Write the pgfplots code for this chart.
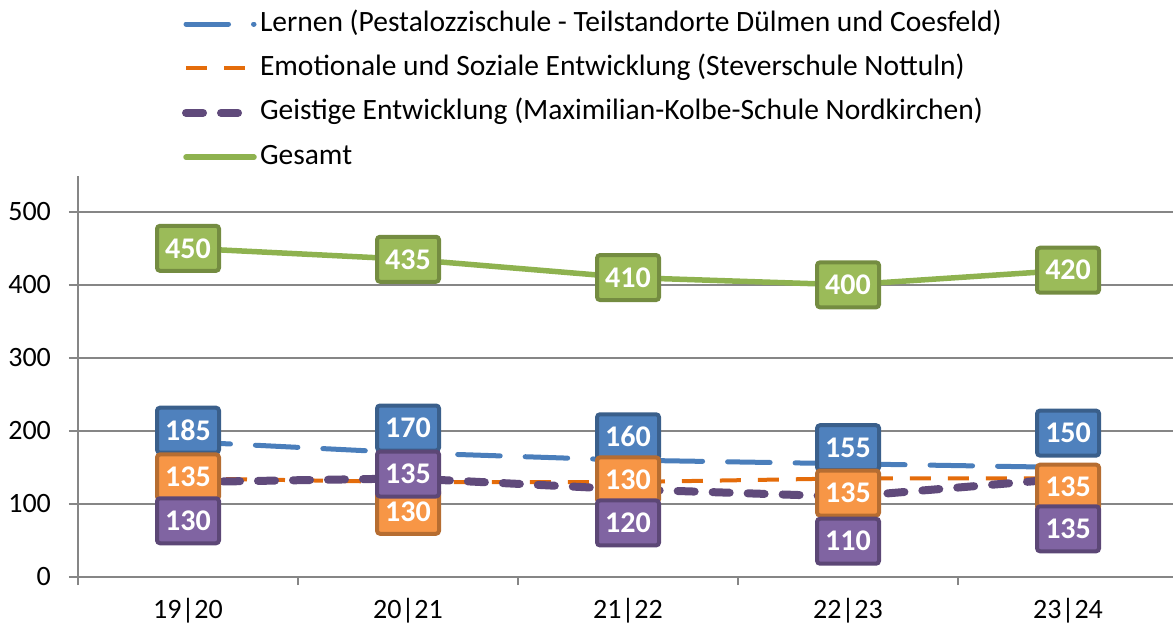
\documentclass[border=0pt]{standalone}
\usepackage{fontspec}
\setmainfont{Carlito}
\usepackage{pgfplots}
\pgfplotsset{compat=1.18}
\definecolor{axgray}{HTML}{868686}
\definecolor{lblue}{HTML}{4A7EBB}
\definecolor{lorange}{HTML}{E46C0A}
\definecolor{lpurple}{HTML}{604A7B}
\definecolor{lgreen}{HTML}{8EB24F}
\definecolor{fblue}{HTML}{4F81BD}
\definecolor{bblue}{HTML}{3A5F8B}
\definecolor{forange}{HTML}{F79646}
\definecolor{borange}{HTML}{B66D31}
\definecolor{fpurple}{HTML}{8064A2}
\definecolor{bpurple}{HTML}{5C4776}
\definecolor{fgreen}{HTML}{9BBB59}
\definecolor{bgreen}{HTML}{748C41}
\tikzset{lbl/.style 2 args={fill=#1, draw=#2, line width=2pt, rounded corners=1.5pt,
  minimum width=31pt, minimum height=22.5pt, inner sep=0pt, text=white,
  font=\fontsize{15}{16}\selectfont\bfseries, anchor=center}}
\begin{document}
\begin{tikzpicture}
\begin{axis}[
  at={(0,0)}, anchor=south west,
  scale only axis, width=547.5pt, height=200.5pt,
  xmin=-0.5, xmax=4.477, ymin=0, ymax=549,
  axis x line*=bottom, axis y line*=left,
  axis line style={draw=axgray, line width=1pt},
  xtick={0,1,2,3,4},
  xticklabels={19|20,20|21,21|22,22|23,23|24},
  minor xtick={-0.5,0.5,1.5,2.5,3.5},
  major x tick style={draw=none},
  minor x tick style={draw=axgray, line width=1pt},
  ytick={0,100,200,300,400,500},
  y tick style={draw=axgray, line width=1pt},
  tick align=outside, major tick length=4.5pt, minor tick length=4pt,
  ymajorgrids, grid style={draw=axgray, line width=1pt},
  /pgf/number format/assume math mode=true,
  ticklabel style={font=\fontsize{14}{16}\selectfont},
  yticklabel style={xshift=-5.5pt},
  xticklabel style={yshift=-2.5pt},
  legend cell align=left,
  legend image code/.code={\draw[#1] (0pt,0pt) -- (34pt,0pt);},
  legend style={draw=none, fill=none, at={(axis description cs:0.095,1.4115)},
    anchor=north west, inner sep=0pt, outer sep=0pt, row sep=9.2pt,
    nodes={inner xsep=1pt, inner ysep=0pt, text height=10pt, text depth=3pt,
      font=\fontsize{14.75}{16}\selectfont}},
]
\addplot[lblue, line width=2.5pt, line cap=round, dash pattern=on 21.25pt off 12.5pt]
  coordinates {(0,185) (1,170) (2,160) (3,155) (4,150)};
\addlegendentry{Lernen (Pestalozzischule - Teilstandorte Dülmen und Coesfeld)}
\addplot[lorange, line width=2pt, line cap=butt, dash pattern=on 10.5pt off 8.5pt]
  coordinates {(0,135) (1,130) (2,130) (3,135) (4,135)};
\addlegendentry{Emotionale und Soziale Entwicklung (Steverschule Nottuln)}
\addplot[lpurple, line width=4pt, line cap=round, dash pattern=on 8.5pt off 9pt]
  coordinates {(0,130) (1,135) (2,120) (3,110) (4,135)};
\addlegendentry{Geistige Entwicklung (Maximilian-Kolbe-Schule Nordkirchen)}
\addplot[lgreen, line width=2.75pt, line cap=round]
  coordinates {(0,450) (1,435) (2,410) (3,400) (4,420)};
\addlegendentry{Gesamt}
% data labels
\addplot[forget plot, draw=none, mark=none, nodes near coords, point meta=explicit symbolic,
  every node near coord/.append style={lbl={fblue}{bblue}}]
  coordinates {(0,201)[185] (1,204)[170] (2,192)[160] (3,177)[155] (4,197)[150]};
\addplot[forget plot, draw=none, mark=none, nodes near coords, point meta=explicit symbolic,
  every node near coord/.append style={lbl={forange}{borange}}]
  coordinates {(0,137)[135] (1,90)[130] (2,133)[130] (3,115)[135] (4,123)[135]};
\addplot[forget plot, draw=none, mark=none, nodes near coords, point meta=explicit symbolic,
  every node near coord/.append style={lbl={fpurple}{bpurple}}]
  coordinates {(0,77)[130] (1,141)[135] (2,74)[120] (3,49)[110] (4,66)[135]};
\addplot[forget plot, draw=none, mark=none, nodes near coords, point meta=explicit symbolic,
  every node near coord/.append style={lbl={fgreen}{bgreen}}]
  coordinates {(0,450)[450] (1,435)[435] (2,410)[410] (3,400)[400] (4,420)[420]};
\end{axis}
\pgfresetboundingbox
\path (-39pt,-26pt) rectangle (547.5pt,288.5pt);
\end{tikzpicture}
\end{document}
